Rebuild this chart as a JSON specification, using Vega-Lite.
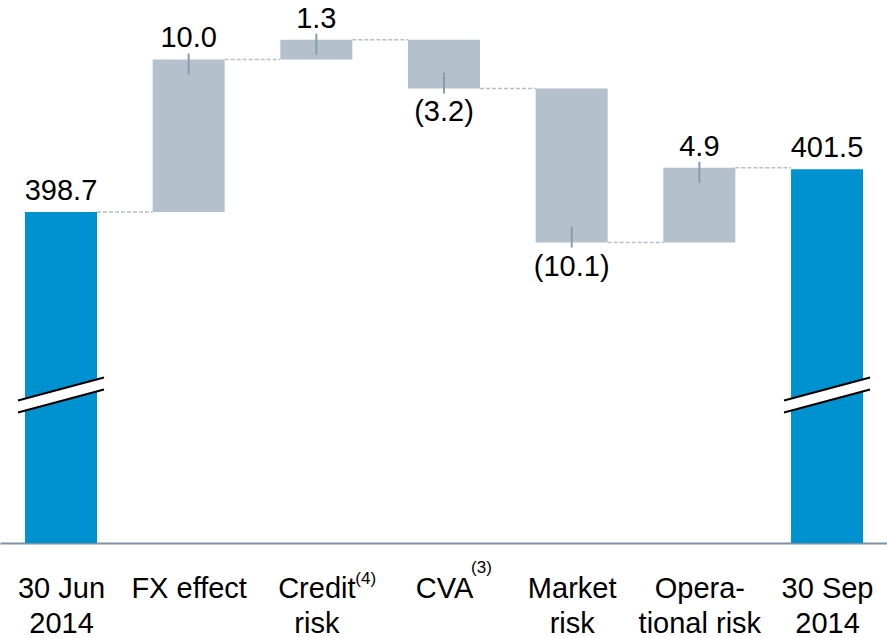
{
  "$schema": "https://vega.github.io/schema/vega-lite/v6.json",
  "width": 887,
  "height": 543,
  "padding": 0,
  "autosize": {"type": "pad"},
  "background": "white",
  "config": {
    "view": {"stroke": null},
    "font": "Liberation Sans",
    "text": {"font": "Liberation Sans", "fontSize": 29, "color": "#000000"}
  },
  "data": {
    "values": [
      {"idx": 0, "cat": "30 Jun 2014", "kind": "total", "start": null, "end": 398.7, "label": "398.7"},
      {"idx": 1, "cat": "FX effect", "kind": "up", "start": 398.7, "end": 408.7, "label": "10.0"},
      {"idx": 2, "cat": "Credit risk", "kind": "up", "start": 408.7, "end": 410.0, "label": "1.3", "sup": "(4)"},
      {"idx": 3, "cat": "CVA", "kind": "down", "start": 410.0, "end": 406.8, "label": "(3.2)", "sup": "(3)"},
      {"idx": 4, "cat": "Market risk", "kind": "down", "start": 406.8, "end": 396.7, "label": "(10.1)"},
      {"idx": 5, "cat": "Operational risk", "kind": "up", "start": 396.7, "end": 401.6, "label": "4.9"},
      {"idx": 6, "cat": "30 Sep 2014", "kind": "total", "start": null, "end": 401.5, "label": "401.5"}
    ]
  },
  "encoding": {
    "x": {
      "field": "idx",
      "type": "quantitative",
      "scale": {"domain": [-0.4778, 6.4698], "nice": false, "zero": false, "padding": 0},
      "axis": {
        "values": [0, 1, 2, 3, 4, 5, 6],
        "title": null,
        "grid": false,
        "ticks": false,
        "domain": true,
        "domainColor": "#7f91a3",
        "domainWidth": 2,
        "labelFont": "Liberation Sans",
        "labelFontSize": 29,
        "labelColor": "#000000",
        "labelLineHeight": 35,
        "labelPadding": 31,
        "labelOverlap": false,
        "labelBound": false,
        "labelFlush": false,
        "labelExpr": "[['30 Jun','2014'],['FX effect'],['Credit','risk'],['CVA'],['Market','risk'],['Opera-','tional risk'],['30 Sep','2014']][datum.value]"
      }
    }
  },
  "layer": [
    {
      "transform": [{"filter": "datum.kind == 'total'"}],
      "mark": {"type": "bar", "width": 72, "color": "#0092d0"},
      "encoding": {
        "y": {"field": "end", "type": "quantitative", "scale": {"domain": [377.0, 412.6], "nice": false, "zero": false, "padding": 0}, "axis": null},
        "y2": {"datum": 377.0}
      }
    },
    {
      "transform": [{"filter": "datum.kind != 'total'"}],
      "mark": {"type": "bar", "width": 72, "color": "#b4c0cc"},
      "encoding": {
        "y": {"field": "start", "type": "quantitative"},
        "y2": {"field": "end"}
      }
    },
    {
      "transform": [{"filter": "datum.idx < 6"}, {"calculate": "datum.idx + 1", "as": "nidx"}],
      "mark": {"type": "rule", "color": "#b4c0cc", "strokeWidth": 1.5, "strokeDash": [4, 2], "xOffset": 36, "x2Offset": -36},
      "encoding": {
        "x2": {"field": "nidx"},
        "y": {"field": "end", "type": "quantitative"}
      }
    },
    {
      "transform": [{"filter": "datum.kind == 'up'"}],
      "mark": {"type": "rule", "color": "#8a9cb0", "strokeWidth": 2, "yOffset": -6, "y2Offset": 15},
      "encoding": {
        "y": {"field": "end", "type": "quantitative"},
        "y2": {"field": "end"}
      }
    },
    {
      "transform": [{"filter": "datum.kind == 'down'"}],
      "mark": {"type": "rule", "color": "#8a9cb0", "strokeWidth": 2, "yOffset": -16, "y2Offset": 5},
      "encoding": {
        "y": {"field": "end", "type": "quantitative"},
        "y2": {"field": "end"}
      }
    },
    {
      "transform": [{"filter": "datum.kind != 'down'"}],
      "mark": {"type": "text", "baseline": "alphabetic", "dy": -12},
      "encoding": {
        "y": {"field": "end", "type": "quantitative"},
        "text": {"field": "label"}
      }
    },
    {
      "transform": [{"filter": "datum.kind == 'down'"}],
      "mark": {"type": "text", "baseline": "alphabetic", "dy": 33},
      "encoding": {
        "y": {"field": "end", "type": "quantitative"},
        "text": {"field": "label"}
      }
    },
    {
      "transform": [{"filter": "datum.idx == 2"}],
      "mark": {"type": "text", "baseline": "alphabetic", "align": "left", "fontSize": 17, "dx": 39, "dy": 41},
      "encoding": {
        "y": {"datum": 377.0},
        "text": {"field": "sup"}
      }
    },
    {
      "transform": [{"filter": "datum.idx == 3"}],
      "mark": {"type": "text", "baseline": "alphabetic", "align": "left", "fontSize": 17, "dx": 27, "dy": 30},
      "encoding": {
        "y": {"datum": 377.0},
        "text": {"field": "sup"}
      }
    },
    {
      "transform": [{"filter": "datum.kind == 'total'"}],
      "mark": {"type": "rule", "color": "#ffffff", "strokeWidth": 11, "strokeCap": "butt", "xOffset": -43, "x2Offset": 43, "yOffset": 11.5, "y2Offset": -11.5},
      "encoding": {
        "x2": {"field": "idx"},
        "y": {"datum": 386.7},
        "y2": {"datum": 386.7}
      }
    },
    {
      "transform": [{"filter": "datum.kind == 'total'"}],
      "mark": {"type": "rule", "color": "#000000", "strokeWidth": 2, "strokeCap": "butt", "xOffset": -43, "x2Offset": 43, "yOffset": 5.5, "y2Offset": -17.5},
      "encoding": {
        "x2": {"field": "idx"},
        "y": {"datum": 386.7},
        "y2": {"datum": 386.7}
      }
    },
    {
      "transform": [{"filter": "datum.kind == 'total'"}],
      "mark": {"type": "rule", "color": "#000000", "strokeWidth": 2, "strokeCap": "butt", "xOffset": -43, "x2Offset": 43, "yOffset": 17.5, "y2Offset": -5.5},
      "encoding": {
        "x2": {"field": "idx"},
        "y": {"datum": 386.7},
        "y2": {"datum": 386.7}
      }
    }
  ]
}
